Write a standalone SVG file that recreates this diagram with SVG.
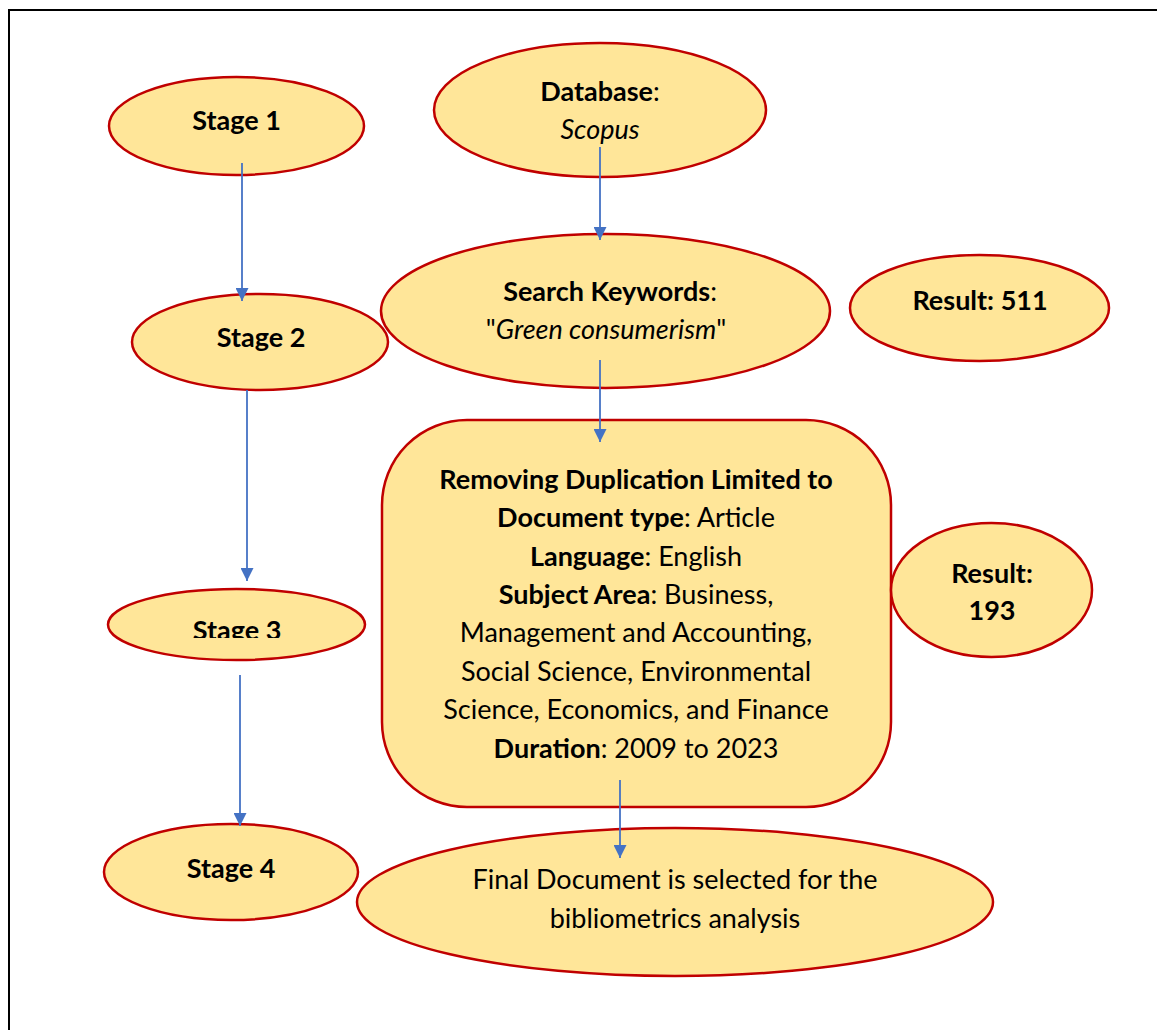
<svg xmlns="http://www.w3.org/2000/svg" width="1157" height="1030" viewBox="0 0 1157 1030">
<defs>
<style>
.node{fill:#FFE699;stroke:#C00000;stroke-width:2.5}
.t{font-family:Lato,"Liberation Sans",sans-serif;fill:#000;text-anchor:middle}
.b{font-weight:bold}
.i{font-style:italic}
.s{font-size:27px;font-weight:bold}
.m{font-size:27px}
.conn line{stroke:#4472C4;stroke-width:1.8;marker-end:url(#ah)}
</style>
<marker id="ah" viewBox="0 0 10 10" refX="10" refY="5" markerUnits="userSpaceOnUse" markerWidth="13" markerHeight="13" orient="auto">
<path d="M0,0 L10,5 L0,10 z" fill="#4472C4"/>
</marker>
<clipPath id="clip3"><rect x="100" y="580" width="280" height="58"/></clipPath>
</defs>
<rect x="0" y="0" width="1157" height="1030" fill="#fff"/>
<rect x="9" y="10" width="1200" height="1100" fill="none" stroke="#000" stroke-width="2"/>

<g id="stage1">
<ellipse class="node" cx="236.5" cy="126" rx="127.5" ry="49"/>
<text class="t s" x="236.5" y="130">Stage 1</text>
</g>
<g id="stage2">
<ellipse class="node" cx="260" cy="342" rx="128" ry="48"/>
<text class="t s" x="261" y="347">Stage 2</text>
</g>
<g id="stage3">
<ellipse class="node" cx="236.5" cy="624.5" rx="128.5" ry="35.5"/>
<text class="t s" x="237" y="640" clip-path="url(#clip3)">Stage 3</text>
</g>
<g id="stage4">
<ellipse class="node" cx="231" cy="872" rx="127" ry="48"/>
<text class="t s" x="231" y="878">Stage 4</text>
</g>

<g id="database">
<ellipse class="node" cx="600" cy="110" rx="166" ry="67"/>
<text class="t m" x="600" y="101"><tspan class="b">Database</tspan>:</text>
<text class="t m i" x="600" y="139">Scopus</text>
</g>
<g id="keywords">
<ellipse class="node" cx="605.5" cy="311" rx="224.5" ry="77"/>
<text class="t m" x="610" y="301"><tspan class="b">Search Keywords</tspan>:</text>
<text class="t m" x="606" y="339">"<tspan class="i">Green consumerism</tspan>"</text>
</g>
<g id="result511">
<ellipse class="node" cx="979.5" cy="308" rx="129.5" ry="53"/>
<text class="t m b" x="980" y="310">Result: 511</text>
</g>
<g id="filter">
<rect class="node" x="382" y="420" width="509" height="387" rx="85" ry="85"/>
<text class="t m" x="636" y="489"><tspan class="b">Removing Duplication Limited to</tspan></text>
<text class="t m" x="636" y="527"><tspan class="b">Document type</tspan>: Article</text>
<text class="t m" x="636" y="566"><tspan class="b">Language</tspan>: English</text>
<text class="t m" x="636" y="604"><tspan class="b">Subject Area</tspan>: Business,</text>
<text class="t m" x="636" y="642">Management and Accounting,</text>
<text class="t m" x="636" y="681">Social Science, Environmental</text>
<text class="t m" x="636" y="719">Science, Economics, and Finance</text>
<text class="t m" x="636" y="758"><tspan class="b">Duration</tspan>: 2009 to 2023</text>
</g>
<g id="result193">
<ellipse class="node" cx="991.5" cy="590" rx="100.5" ry="67"/>
<text class="t m b" x="992" y="583">Result:</text>
<text class="t m b" x="992" y="620">193</text>
</g>
<g id="final">
<ellipse class="node" cx="675" cy="902" rx="318" ry="74"/>
<text class="t m" x="675" y="889">Final Document is selected for the</text>
<text class="t m" x="675" y="928">bibliometrics analysis</text>
</g>

<g id="connectors" class="conn">
<line x1="242" y1="163" x2="242" y2="301"/>
<line x1="247" y1="390" x2="247" y2="581"/>
<line x1="240" y1="675" x2="240" y2="826"/>
<line x1="600" y1="147" x2="600" y2="240"/>
<line x1="600" y1="360" x2="600" y2="442"/>
<line x1="620" y1="780" x2="620" y2="858"/>
</g>
</svg>
